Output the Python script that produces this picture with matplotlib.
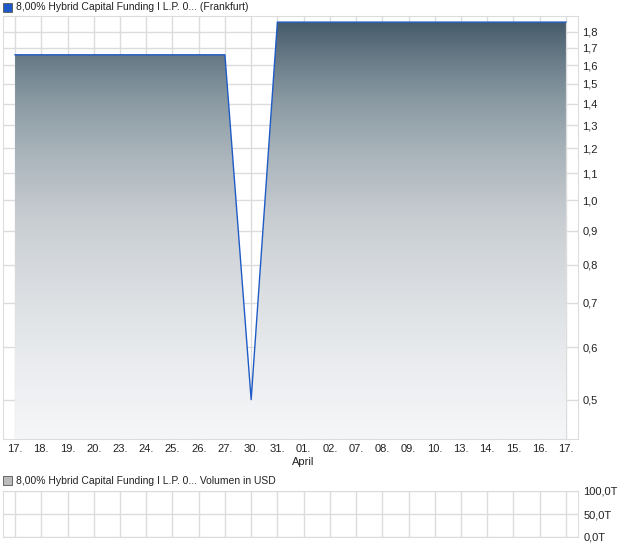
import numpy as np
import matplotlib
matplotlib.use("Agg")
import matplotlib.pyplot as plt
from matplotlib.ticker import FixedLocator, NullLocator
from matplotlib.patches import Rectangle
from matplotlib.colors import LinearSegmentedColormap

# data
dates = ["17.", "18.", "19.", "20.", "23.", "24.", "25.", "26.", "27.", "30.", "31.",
         "01.", "02.", "07.", "08.", "09.", "10.", "13.", "14.", "15.", "16.", "17."]
prices = [1.66, 1.66, 1.66, 1.66, 1.66, 1.66, 1.66, 1.66, 1.66, 0.50, 1.86,
          1.86, 1.86, 1.86, 1.86, 1.86, 1.86, 1.86, 1.86, 1.86, 1.86, 1.86]
price_ticks = [0.5, 0.6, 0.7, 0.8, 0.9, 1.0, 1.1, 1.2, 1.3, 1.4, 1.5, 1.6, 1.7, 1.8]
volume_ticks = [0, 50, 100]
volume_labels = ["0,0T", "50,0T", "100,0T"]

title_top = "8,00% Hybrid Capital Funding I L.P. 0... (Frankfurt)"
title_bottom = "8,00% Hybrid Capital Funding I L.P. 0... Volumen in USD"

plt.rcParams['font.family'] = ['Liberation Sans', 'DejaVu Sans']
grid_col = "#dcdcdc"
line_col = "#1f5bc6"
txt_col = "#222222"
fs = 8

W, H = 620, 546
fig = plt.figure(figsize=(W / 100, H / 100), dpi=100)

def box(x0, y0, x1, y1):
    return [x0 / W, 1 - y1 / H, (x1 - x0) / W, (y1 - y0) / H]

x = np.arange(len(dates))
ylo, yhi = 0.436, 1.90
xlo, xhi = -0.46, len(dates) - 1 + 0.46

ax = fig.add_axes(box(3, 16, 578, 439))
ax.set_yscale("log")
ax.set_xlim(xlo, xhi)
ax.set_ylim(ylo, yhi)

# gradient fill under the line
cmap = LinearSegmentedColormap.from_list("g", ["#f5f6f8", "#c9ced2", "#8a9aa3", "#3f5565"])
grad = np.linspace(0, 1, 256).reshape(-1, 1)
img = ax.imshow(grad, aspect="auto", cmap=cmap, origin="lower",
                extent=[xlo, xhi, ylo, yhi], zorder=1)
poly = ax.fill_between(x, prices, ylo, color="none", zorder=1)
clip = poly.get_paths()[0]
img.set_clip_path(clip, ax.transData)
ax.plot(x, prices, color=line_col, lw=1.0, zorder=3)

ax.yaxis.set_major_locator(FixedLocator(price_ticks))
ax.yaxis.set_minor_locator(NullLocator())
ax.set_yticklabels([f"{t:.1f}".replace(".", ",") for t in price_ticks])
ax.yaxis.tick_right()
ax.set_xticks(x)
ax.set_xticklabels(dates)
ax.tick_params(axis="both", length=0, labelsize=fs, colors=txt_col)
ax.tick_params(axis="y", pad=3)
ax.tick_params(axis="x", pad=3.5)
ax.grid(True, color=grid_col, lw=1, zorder=0)
ax.set_axisbelow(True)
for s in ax.spines.values():
    s.set_color(grid_col)
ax.annotate("April", xy=(11, 0), xycoords=("data", "axes fraction"),
            xytext=(0, -16.5), textcoords="offset points",
            ha="center", va="center", fontsize=fs, color=txt_col)

fig.patches.append(Rectangle((3 / W, 1 - 12 / H), 9 / W, 9 / H, transform=fig.transFigure,
                             facecolor=line_col, edgecolor="#555555", lw=0.6))
fig.text(16 / W, 1 - 7.5 / H, title_top, fontsize=7.5, va="center", color=txt_col)

# volume panel (empty)
ax2 = fig.add_axes(box(3, 491, 578, 537))
ax2.set_xlim(xlo, xhi)
ax2.set_ylim(0, 100)
ax2.set_xticks(x)
ax2.set_xticklabels([])
ax2.set_yticks(volume_ticks)
ax2.set_yticklabels(volume_labels)
ax2.yaxis.tick_right()
ax2.tick_params(axis="both", length=0, labelsize=fs, colors=txt_col)
ax2.tick_params(axis="y", pad=4)
ax2.grid(True, color=grid_col, lw=1)
for s in ax2.spines.values():
    s.set_color(grid_col)

fig.patches.append(Rectangle((3 / W, 1 - 485 / H), 9 / W, 9 / H, transform=fig.transFigure,
                             facecolor="#bbbbbb", edgecolor="#555555", lw=0.6))
fig.text(16 / W, 1 - 480.5 / H, title_bottom, fontsize=7.5, va="center", color=txt_col)

fig.savefig("out.png", dpi=100)
